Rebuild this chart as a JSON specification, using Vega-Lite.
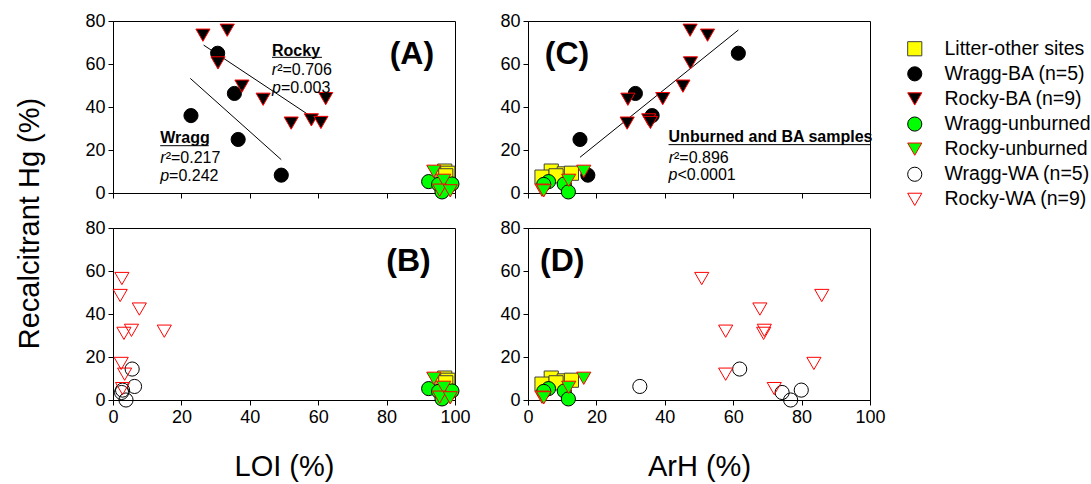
{
  "$schema": "https://vega.github.io/schema/vega-lite/v6.json",
  "background": "white",
  "padding": {"left": 14, "top": 11, "right": 5, "bottom": 5},
  "columns": 2,
  "bounds": "flush",
  "spacing": {"row": 35, "column": 73},
  "resolve": {"scale": {"x": "independent", "y": "independent"}},
  "datasets": {
    "pts": [
      {"g": "Litter-other sites", "loi": 97.0, "arh": 6.8, "hg": 10.2},
      {"g": "Litter-other sites", "loi": 97.6, "arh": 10.6, "hg": 8.9},
      {"g": "Litter-other sites", "loi": 97.9, "arh": 12.7, "hg": 9.2},
      {"g": "Litter-other sites", "loi": 96.5, "arh": 4.1, "hg": 7.4},
      {"g": "Litter-other sites", "loi": 97.3, "arh": 8.2, "hg": 8.0},
      {"g": "Wragg-BA (n=5)", "loi": 30.6, "arh": 61.5, "hg": 65.0},
      {"g": "Wragg-BA (n=5)", "loi": 35.5, "arh": 31.4, "hg": 46.3},
      {"g": "Wragg-BA (n=5)", "loi": 22.8, "arh": 36.3, "hg": 36.0},
      {"g": "Wragg-BA (n=5)", "loi": 36.6, "arh": 15.2, "hg": 24.9},
      {"g": "Wragg-BA (n=5)", "loi": 49.2, "arh": 17.5, "hg": 8.3},
      {"g": "Rocky-BA (n=9)", "loi": 33.4, "arh": 47.4, "hg": 75.7},
      {"g": "Rocky-BA (n=9)", "loi": 26.3, "arh": 52.5, "hg": 73.4},
      {"g": "Rocky-BA (n=9)", "loi": 30.7, "arh": 47.5, "hg": 60.5},
      {"g": "Rocky-BA (n=9)", "loi": 37.7, "arh": 45.3, "hg": 49.7},
      {"g": "Rocky-BA (n=9)", "loi": 43.9, "arh": 29.2, "hg": 43.6},
      {"g": "Rocky-BA (n=9)", "loi": 62.2, "arh": 39.4, "hg": 43.9},
      {"g": "Rocky-BA (n=9)", "loi": 52.1, "arh": 29.0, "hg": 32.5},
      {"g": "Rocky-BA (n=9)", "loi": 58.0, "arh": 35.3, "hg": 34.0},
      {"g": "Rocky-BA (n=9)", "loi": 60.8, "arh": 35.8, "hg": 32.8},
      {"g": "Wragg-unburned", "loi": 92.3, "arh": 6.0, "hg": 5.3},
      {"g": "Wragg-unburned", "loi": 95.2, "arh": 4.6, "hg": 4.0},
      {"g": "Wragg-unburned", "loi": 99.1, "arh": 10.6, "hg": 4.2},
      {"g": "Wragg-unburned", "loi": 96.2, "arh": 11.8, "hg": 0.5},
      {"g": "Rocky-unburned", "loi": 93.8, "arh": 16.3, "hg": 10.1},
      {"g": "Rocky-unburned", "loi": 96.7, "arh": 11.9, "hg": 5.9},
      {"g": "Rocky-unburned", "loi": 95.5, "arh": 4.1, "hg": 1.3},
      {"g": "Rocky-unburned", "loi": 98.6, "arh": 4.6, "hg": 1.0},
      {"g": "Wragg-WA (n=5)", "loi": 5.6, "arh": 61.9, "hg": 14.4},
      {"g": "Wragg-WA (n=5)", "loi": 6.3, "arh": 32.7, "hg": 6.3},
      {"g": "Wragg-WA (n=5)", "loi": 2.8, "arh": 79.9, "hg": 4.6},
      {"g": "Wragg-WA (n=5)", "loi": 2.5, "arh": 74.3, "hg": 3.5},
      {"g": "Wragg-WA (n=5)", "loi": 3.8, "arh": 76.8, "hg": 0.0},
      {"g": "Rocky-WA (n=9)", "loi": 2.6, "arh": 50.8, "hg": 56.5},
      {"g": "Rocky-WA (n=9)", "loi": 2.1, "arh": 85.9, "hg": 48.6},
      {"g": "Rocky-WA (n=9)", "loi": 7.7, "arh": 67.8, "hg": 42.3},
      {"g": "Rocky-WA (n=9)", "loi": 15.0, "arh": 57.8, "hg": 32.0},
      {"g": "Rocky-WA (n=9)", "loi": 5.4, "arh": 69.1, "hg": 32.4},
      {"g": "Rocky-WA (n=9)", "loi": 3.2, "arh": 68.9, "hg": 31.0},
      {"g": "Rocky-WA (n=9)", "loi": 2.4, "arh": 83.6, "hg": 17.0},
      {"g": "Rocky-WA (n=9)", "loi": 3.4, "arh": 57.8, "hg": 12.0},
      {"g": "Rocky-WA (n=9)", "loi": 2.8, "arh": 72.0, "hg": 5.3}
    ],
    "fits": [
      {"panel": "A", "fit": "Wragg", "x": 22.6, "hg": 53.3},
      {"panel": "A", "fit": "Wragg", "x": 49.2, "hg": 15.5},
      {"panel": "A", "fit": "Rocky", "x": 26.5, "hg": 68.8},
      {"panel": "A", "fit": "Rocky", "x": 58.0, "hg": 35.5},
      {"panel": "C", "fit": "All", "x": 15.2, "hg": 16.6},
      {"panel": "C", "fit": "All", "x": 61.5, "hg": 75.8}
    ],
    "ul": [
      {"panel": "A", "x": 46.5, "x2": 61.1, "hg": 63.1},
      {"panel": "A", "x": 13.8, "x2": 28.0, "hg": 22.0},
      {"panel": "C", "x": 41.1, "x2": 100, "hg": 22.5}
    ],
    "notes": [
      {"panel": "A", "kind": "head", "x": 46.5, "hg": 63.9, "text": "Rocky"},
      {"panel": "A", "kind": "stat", "x": 48.0, "hg": 55.0, "lead": "r", "rest": "²=0.706"},
      {"panel": "A", "kind": "stat", "x": 49.1, "hg": 46.3, "lead": "p", "rest": "=0.003"},
      {"panel": "A", "kind": "head", "x": 13.8, "hg": 23.1, "text": "Wragg"},
      {"panel": "A", "kind": "stat", "x": 15.4, "hg": 13.9, "lead": "r", "rest": "²=0.217"},
      {"panel": "A", "kind": "stat", "x": 16.4, "hg": 5.7, "lead": "p", "rest": "=0.242"},
      {"panel": "C", "kind": "head", "x": 41.1, "hg": 23.7, "text": "Unburned and BA samples"},
      {"panel": "C", "kind": "stat", "x": 42.7, "hg": 14.0, "lead": "r", "rest": "²=0.896"},
      {"panel": "C", "kind": "stat", "x": 43.7, "hg": 6.0, "lead": "p", "rest": "<0.0001"}
    ],
    "tags": [
      {"panel": "A", "x": 87.4, "hg": 60.0, "text": "(A)"},
      {"panel": "B", "x": 86.4, "hg": 60.0, "text": "(B)"},
      {"panel": "C", "x": 11.4, "hg": 60.0, "text": "(C)"},
      {"panel": "D", "x": 10.0, "hg": 60.0, "text": "(D)"}
    ]
  },
  "concat": [
    {
      "width": 342, "height": 172,
      "layer": [
        {"data": {"name": "fits"}, "transform": [{"filter": "datum.panel === 'A'"}],
         "mark": {"type": "line", "color": "black", "strokeWidth": 1},
         "encoding": {"x": {"field": "x", "type": "quantitative", "scale": {"domain": [0, 100]}, "axis": {"values": [0, 20, 40, 60, 80, 100], "labels": false, "title": null}},
                      "y": {"field": "hg", "type": "quantitative", "scale": {"domain": [0, 80]}, "axis": {"values": [0, 20, 40, 60, 80], "title": "Recalcitrant Hg (%)", "titleX": -75, "titleY": 202, "titleBaseline": "alphabetic"}},
                      "detail": {"field": "fit"}}},
        {"data": {"name": "pts"}, "transform": [{"filter": {"field": "g", "oneOf": ["Litter-other sites", "Wragg-BA (n=5)", "Rocky-BA (n=9)", "Wragg-unburned", "Rocky-unburned"]}}],
         "mark": {"type": "point", "filled": true, "opacity": 1, "strokeWidth": 1, "size": 200},
         "encoding": {
           "x": {"field": "loi", "type": "quantitative", "scale": {"domain": [0, 100]}, "axis": {"values": [0, 20, 40, 60, 80, 100], "labels": false, "title": null}},
           "y": {"field": "hg", "type": "quantitative", "scale": {"domain": [0, 80]}, "axis": {"values": [0, 20, 40, 60, 80], "title": "Recalcitrant Hg (%)", "titleX": -75, "titleY": 202, "titleBaseline": "alphabetic"}},
           "shape": {"field": "g", "type": "nominal", "scale": {"domain": ["Litter-other sites", "Wragg-BA (n=5)", "Rocky-BA (n=9)", "Wragg-unburned", "Rocky-unburned", "Wragg-WA (n=5)", "Rocky-WA (n=9)"], "range": ["square", "circle", "triangle-down", "circle", "triangle-down", "circle", "triangle-down"]}, "legend": {"title": " "}},
           "fill": {"field": "g", "type": "nominal", "scale": {"domain": ["Litter-other sites", "Wragg-BA (n=5)", "Rocky-BA (n=9)", "Wragg-unburned", "Rocky-unburned", "Wragg-WA (n=5)", "Rocky-WA (n=9)"], "range": ["#ffff00", "#000000", "#000000", "#00ff00", "#00ff00", "transparent", "transparent"]}, "legend": {"title": " "}},
           "stroke": {"field": "g", "type": "nominal", "scale": {"domain": ["Litter-other sites", "Wragg-BA (n=5)", "Rocky-BA (n=9)", "Wragg-unburned", "Rocky-unburned", "Wragg-WA (n=5)", "Rocky-WA (n=9)"], "range": ["#404040", "#000000", "#ff0000", "#000000", "#ff0000", "#000000", "#ff0000"]}, "legend": {"title": " "}}
         }},
        {"data": {"name": "ul"}, "transform": [{"filter": "datum.panel === 'A'"}],
         "mark": {"type": "rule", "color": "black", "strokeWidth": 1},
         "encoding": {"x": {"field": "x", "type": "quantitative", "scale": {"domain": [0, 100]}, "axis": {"values": [0, 20, 40, 60, 80, 100], "labels": false, "title": null}}, "x2": {"field": "x2"},
                      "y": {"field": "hg", "type": "quantitative", "scale": {"domain": [0, 80]}, "axis": {"values": [0, 20, 40, 60, 80], "title": "Recalcitrant Hg (%)", "titleX": -75, "titleY": 202, "titleBaseline": "alphabetic"}}}},
        {"data": {"name": "notes"}, "transform": [{"filter": "datum.panel === 'A' && datum.kind === 'head'"}],
         "mark": {"type": "text", "fontWeight": "bold", "fontSize": 16, "align": "left", "baseline": "alphabetic", "color": "black"},
         "encoding": {"x": {"field": "x", "type": "quantitative", "scale": {"domain": [0, 100]}, "axis": {"values": [0, 20, 40, 60, 80, 100], "labels": false, "title": null}},
                      "y": {"field": "hg", "type": "quantitative", "scale": {"domain": [0, 80]}, "axis": {"values": [0, 20, 40, 60, 80], "title": "Recalcitrant Hg (%)", "titleX": -75, "titleY": 202, "titleBaseline": "alphabetic"}},
                      "text": {"field": "text"}}},
        {"data": {"name": "notes"}, "transform": [{"filter": "datum.panel === 'A' && datum.kind === 'stat'"}],
         "mark": {"type": "text", "fontStyle": "italic", "fontSize": 16, "align": "right", "baseline": "alphabetic", "color": "black"},
         "encoding": {"x": {"field": "x", "type": "quantitative", "scale": {"domain": [0, 100]}, "axis": {"values": [0, 20, 40, 60, 80, 100], "labels": false, "title": null}},
                      "y": {"field": "hg", "type": "quantitative", "scale": {"domain": [0, 80]}, "axis": {"values": [0, 20, 40, 60, 80], "title": "Recalcitrant Hg (%)", "titleX": -75, "titleY": 202, "titleBaseline": "alphabetic"}},
                      "text": {"field": "lead"}}},
        {"data": {"name": "notes"}, "transform": [{"filter": "datum.panel === 'A' && datum.kind === 'stat'"}],
         "mark": {"type": "text", "fontSize": 16, "align": "left", "baseline": "alphabetic", "color": "black"},
         "encoding": {"x": {"field": "x", "type": "quantitative", "scale": {"domain": [0, 100]}, "axis": {"values": [0, 20, 40, 60, 80, 100], "labels": false, "title": null}},
                      "y": {"field": "hg", "type": "quantitative", "scale": {"domain": [0, 80]}, "axis": {"values": [0, 20, 40, 60, 80], "title": "Recalcitrant Hg (%)", "titleX": -75, "titleY": 202, "titleBaseline": "alphabetic"}},
                      "text": {"field": "rest"}}},
        {"data": {"name": "tags"}, "transform": [{"filter": "datum.panel === 'A'"}],
         "mark": {"type": "text", "fontWeight": "bold", "fontSize": 32, "align": "center", "baseline": "alphabetic", "color": "black"},
         "encoding": {"x": {"field": "x", "type": "quantitative", "scale": {"domain": [0, 100]}, "axis": {"values": [0, 20, 40, 60, 80, 100], "labels": false, "title": null}},
                      "y": {"field": "hg", "type": "quantitative", "scale": {"domain": [0, 80]}, "axis": {"values": [0, 20, 40, 60, 80], "title": "Recalcitrant Hg (%)", "titleX": -75, "titleY": 202, "titleBaseline": "alphabetic"}},
                      "text": {"field": "text"}}}
      ]
    },
    {
      "width": 342, "height": 172,
      "layer": [
        {"data": {"name": "fits"}, "transform": [{"filter": "datum.panel === 'C'"}],
         "mark": {"type": "line", "color": "black", "strokeWidth": 1},
         "encoding": {"x": {"field": "x", "type": "quantitative", "scale": {"domain": [0, 100]}, "axis": {"values": [0, 20, 40, 60, 80, 100], "labels": false, "title": null}},
                      "y": {"field": "hg", "type": "quantitative", "scale": {"domain": [0, 80]}, "axis": {"values": [0, 20, 40, 60, 80], "title": null}},
                      "detail": {"field": "fit"}}},
        {"data": {"name": "pts"}, "transform": [{"filter": {"field": "g", "oneOf": ["Litter-other sites", "Wragg-BA (n=5)", "Rocky-BA (n=9)", "Wragg-unburned", "Rocky-unburned"]}}],
         "mark": {"type": "point", "filled": true, "opacity": 1, "strokeWidth": 1, "size": 200},
         "encoding": {
           "x": {"field": "arh", "type": "quantitative", "scale": {"domain": [0, 100]}, "axis": {"values": [0, 20, 40, 60, 80, 100], "labels": false, "title": null}},
           "y": {"field": "hg", "type": "quantitative", "scale": {"domain": [0, 80]}, "axis": {"values": [0, 20, 40, 60, 80], "title": null}},
           "shape": {"field": "g", "type": "nominal", "scale": {"domain": ["Litter-other sites", "Wragg-BA (n=5)", "Rocky-BA (n=9)", "Wragg-unburned", "Rocky-unburned", "Wragg-WA (n=5)", "Rocky-WA (n=9)"], "range": ["square", "circle", "triangle-down", "circle", "triangle-down", "circle", "triangle-down"]}, "legend": {"title": " "}},
           "fill": {"field": "g", "type": "nominal", "scale": {"domain": ["Litter-other sites", "Wragg-BA (n=5)", "Rocky-BA (n=9)", "Wragg-unburned", "Rocky-unburned", "Wragg-WA (n=5)", "Rocky-WA (n=9)"], "range": ["#ffff00", "#000000", "#000000", "#00ff00", "#00ff00", "transparent", "transparent"]}, "legend": {"title": " "}},
           "stroke": {"field": "g", "type": "nominal", "scale": {"domain": ["Litter-other sites", "Wragg-BA (n=5)", "Rocky-BA (n=9)", "Wragg-unburned", "Rocky-unburned", "Wragg-WA (n=5)", "Rocky-WA (n=9)"], "range": ["#404040", "#000000", "#ff0000", "#000000", "#ff0000", "#000000", "#ff0000"]}, "legend": {"title": " "}}
         }},
        {"data": {"name": "ul"}, "transform": [{"filter": "datum.panel === 'C'"}],
         "mark": {"type": "rule", "color": "black", "strokeWidth": 1},
         "encoding": {"x": {"field": "x", "type": "quantitative", "scale": {"domain": [0, 100]}, "axis": {"values": [0, 20, 40, 60, 80, 100], "labels": false, "title": null}}, "x2": {"field": "x2"},
                      "y": {"field": "hg", "type": "quantitative", "scale": {"domain": [0, 80]}, "axis": {"values": [0, 20, 40, 60, 80], "title": null}}}},
        {"data": {"name": "notes"}, "transform": [{"filter": "datum.panel === 'C' && datum.kind === 'head'"}],
         "mark": {"type": "text", "fontWeight": "bold", "fontSize": 16, "align": "left", "baseline": "alphabetic", "color": "black"},
         "encoding": {"x": {"field": "x", "type": "quantitative", "scale": {"domain": [0, 100]}, "axis": {"values": [0, 20, 40, 60, 80, 100], "labels": false, "title": null}},
                      "y": {"field": "hg", "type": "quantitative", "scale": {"domain": [0, 80]}, "axis": {"values": [0, 20, 40, 60, 80], "title": null}},
                      "text": {"field": "text"}}},
        {"data": {"name": "notes"}, "transform": [{"filter": "datum.panel === 'C' && datum.kind === 'stat'"}],
         "mark": {"type": "text", "fontStyle": "italic", "fontSize": 16, "align": "right", "baseline": "alphabetic", "color": "black"},
         "encoding": {"x": {"field": "x", "type": "quantitative", "scale": {"domain": [0, 100]}, "axis": {"values": [0, 20, 40, 60, 80, 100], "labels": false, "title": null}},
                      "y": {"field": "hg", "type": "quantitative", "scale": {"domain": [0, 80]}, "axis": {"values": [0, 20, 40, 60, 80], "title": null}},
                      "text": {"field": "lead"}}},
        {"data": {"name": "notes"}, "transform": [{"filter": "datum.panel === 'C' && datum.kind === 'stat'"}],
         "mark": {"type": "text", "fontSize": 16, "align": "left", "baseline": "alphabetic", "color": "black"},
         "encoding": {"x": {"field": "x", "type": "quantitative", "scale": {"domain": [0, 100]}, "axis": {"values": [0, 20, 40, 60, 80, 100], "labels": false, "title": null}},
                      "y": {"field": "hg", "type": "quantitative", "scale": {"domain": [0, 80]}, "axis": {"values": [0, 20, 40, 60, 80], "title": null}},
                      "text": {"field": "rest"}}},
        {"data": {"name": "tags"}, "transform": [{"filter": "datum.panel === 'C'"}],
         "mark": {"type": "text", "fontWeight": "bold", "fontSize": 32, "align": "center", "baseline": "alphabetic", "color": "black"},
         "encoding": {"x": {"field": "x", "type": "quantitative", "scale": {"domain": [0, 100]}, "axis": {"values": [0, 20, 40, 60, 80, 100], "labels": false, "title": null}},
                      "y": {"field": "hg", "type": "quantitative", "scale": {"domain": [0, 80]}, "axis": {"values": [0, 20, 40, 60, 80], "title": null}},
                      "text": {"field": "text"}}}
      ]
    },
    {
      "width": 342, "height": 172,
      "layer": [
        {"data": {"name": "pts"}, "transform": [{"filter": {"field": "g", "oneOf": ["Litter-other sites", "Wragg-unburned", "Rocky-unburned", "Wragg-WA (n=5)", "Rocky-WA (n=9)"]}}],
         "mark": {"type": "point", "filled": true, "opacity": 1, "strokeWidth": 1, "size": 200},
         "encoding": {
           "x": {"field": "loi", "type": "quantitative", "scale": {"domain": [0, 100]}, "axis": {"values": [0, 20, 40, 60, 80, 100], "title": "LOI (%)", "titleY": 75, "titleBaseline": "alphabetic"}},
           "y": {"field": "hg", "type": "quantitative", "scale": {"domain": [0, 80]}, "axis": {"values": [0, 20, 40, 60, 80], "title": null}},
           "shape": {"field": "g", "type": "nominal", "scale": {"domain": ["Litter-other sites", "Wragg-BA (n=5)", "Rocky-BA (n=9)", "Wragg-unburned", "Rocky-unburned", "Wragg-WA (n=5)", "Rocky-WA (n=9)"], "range": ["square", "circle", "triangle-down", "circle", "triangle-down", "circle", "triangle-down"]}, "legend": {"title": " "}},
           "fill": {"field": "g", "type": "nominal", "scale": {"domain": ["Litter-other sites", "Wragg-BA (n=5)", "Rocky-BA (n=9)", "Wragg-unburned", "Rocky-unburned", "Wragg-WA (n=5)", "Rocky-WA (n=9)"], "range": ["#ffff00", "#000000", "#000000", "#00ff00", "#00ff00", "transparent", "transparent"]}, "legend": {"title": " "}},
           "stroke": {"field": "g", "type": "nominal", "scale": {"domain": ["Litter-other sites", "Wragg-BA (n=5)", "Rocky-BA (n=9)", "Wragg-unburned", "Rocky-unburned", "Wragg-WA (n=5)", "Rocky-WA (n=9)"], "range": ["#404040", "#000000", "#ff0000", "#000000", "#ff0000", "#000000", "#ff0000"]}, "legend": {"title": " "}}
         }},
        {"data": {"name": "tags"}, "transform": [{"filter": "datum.panel === 'B'"}],
         "mark": {"type": "text", "fontWeight": "bold", "fontSize": 32, "align": "center", "baseline": "alphabetic", "color": "black"},
         "encoding": {"x": {"field": "x", "type": "quantitative", "scale": {"domain": [0, 100]}, "axis": {"values": [0, 20, 40, 60, 80, 100], "title": "LOI (%)", "titleY": 75, "titleBaseline": "alphabetic"}},
                      "y": {"field": "hg", "type": "quantitative", "scale": {"domain": [0, 80]}, "axis": {"values": [0, 20, 40, 60, 80], "title": null}},
                      "text": {"field": "text"}}}
      ]
    },
    {
      "width": 342, "height": 172,
      "layer": [
        {"data": {"name": "pts"}, "transform": [{"filter": {"field": "g", "oneOf": ["Litter-other sites", "Wragg-unburned", "Rocky-unburned", "Wragg-WA (n=5)", "Rocky-WA (n=9)"]}}],
         "mark": {"type": "point", "filled": true, "opacity": 1, "strokeWidth": 1, "size": 200},
         "encoding": {
           "x": {"field": "arh", "type": "quantitative", "scale": {"domain": [0, 100]}, "axis": {"values": [0, 20, 40, 60, 80, 100], "title": "ArH (%)", "titleY": 75, "titleBaseline": "alphabetic"}},
           "y": {"field": "hg", "type": "quantitative", "scale": {"domain": [0, 80]}, "axis": {"values": [0, 20, 40, 60, 80], "title": null}},
           "shape": {"field": "g", "type": "nominal", "scale": {"domain": ["Litter-other sites", "Wragg-BA (n=5)", "Rocky-BA (n=9)", "Wragg-unburned", "Rocky-unburned", "Wragg-WA (n=5)", "Rocky-WA (n=9)"], "range": ["square", "circle", "triangle-down", "circle", "triangle-down", "circle", "triangle-down"]}, "legend": {"title": " "}},
           "fill": {"field": "g", "type": "nominal", "scale": {"domain": ["Litter-other sites", "Wragg-BA (n=5)", "Rocky-BA (n=9)", "Wragg-unburned", "Rocky-unburned", "Wragg-WA (n=5)", "Rocky-WA (n=9)"], "range": ["#ffff00", "#000000", "#000000", "#00ff00", "#00ff00", "transparent", "transparent"]}, "legend": {"title": " "}},
           "stroke": {"field": "g", "type": "nominal", "scale": {"domain": ["Litter-other sites", "Wragg-BA (n=5)", "Rocky-BA (n=9)", "Wragg-unburned", "Rocky-unburned", "Wragg-WA (n=5)", "Rocky-WA (n=9)"], "range": ["#404040", "#000000", "#ff0000", "#000000", "#ff0000", "#000000", "#ff0000"]}, "legend": {"title": " "}}
         }},
        {"data": {"name": "tags"}, "transform": [{"filter": "datum.panel === 'D'"}],
         "mark": {"type": "text", "fontWeight": "bold", "fontSize": 32, "align": "center", "baseline": "alphabetic", "color": "black"},
         "encoding": {"x": {"field": "x", "type": "quantitative", "scale": {"domain": [0, 100]}, "axis": {"values": [0, 20, 40, 60, 80, 100], "title": "ArH (%)", "titleY": 75, "titleBaseline": "alphabetic"}},
                      "y": {"field": "hg", "type": "quantitative", "scale": {"domain": [0, 80]}, "axis": {"values": [0, 20, 40, 60, 80], "title": null}},
                      "text": {"field": "text"}}}
      ]
    }
  ],
  "config": {
    "font": "Liberation Sans",
    "view": {"stroke": "black", "strokeWidth": 1},
    "axis": {"grid": false, "labelFlush": false, "labelOverlap": false, "domainColor": "black", "domainWidth": 1, "tickColor": "black", "tickSize": 5, "tickWidth": 1, "labelColor": "black", "labelFontSize": 18, "labelPadding": 3, "titleColor": "black", "titleFontSize": 29, "titleFontWeight": "normal"},
    "legend": {"orient": "right", "offset": 19, "padding": 0, "titleFontSize": 11, "titlePadding": 7, "labelFontSize": 19.5, "labelColor": "black", "symbolSize": 200, "symbolStrokeWidth": 1, "rowPadding": 4.1, "labelOffset": 20, "symbolOpacity": 1}
  }
}
